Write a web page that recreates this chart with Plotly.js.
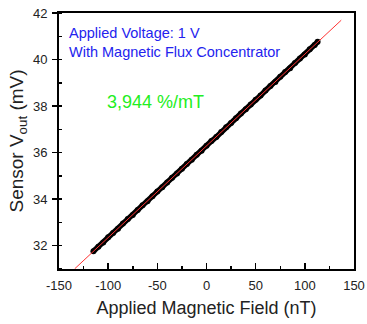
<!DOCTYPE html>
<html>
<head>
<meta charset="utf-8">
<script src="https://cdn.plot.ly/plotly-3.0.1.min.js"></script>
<style>html,body{margin:0;padding:0;background:#fff;}#chart{width:367px;height:324px;}</style>
</head>
<body>
<div id="chart"></div>
<script>
const fieldNT = [-115,-110,-105,-100,-95,-90,-85,-80,-75,-70,-65,-60,-55,-50,-45,-40,-35,-30,-25,-20,-15,-10,-5,0,5,10,15,20,25,30,35,40,45,50,55,60,65,70,75,80,85,90,95,100,105,110,113];
const voutMV = [31.76,31.96,32.14,32.36,32.55,32.73,32.95,33.15,33.32,33.54,33.74,33.91,34.13,34.33,34.51,34.72,34.92,35.10,35.31,35.51,35.69,35.91,36.08,36.30,36.50,36.67,36.89,37.09,37.27,37.48,37.68,37.86,38.07,38.27,38.45,38.67,38.86,39.04,39.26,39.46,39.63,39.85,40.05,40.22,40.44,40.63,40.76];
// Linear fit line (end points)
const fitX = [-134, 137];
const fitY = [31.01, 41.69];
// Tick labels
const xTicks = [-150,-100,-50,0,50,100,150];
const yTicks = [32,34,36,38,40,42];

const font = "Arial, 'Liberation Sans', sans-serif";

const traces = [
  {x: fieldNT, y: voutMV, type: 'scatter', mode: 'lines+markers',
   line: {color: '#000', width: 5.5}, marker: {color: '#000', size: 6, symbol: 'circle'},
   hoverinfo: 'skip', showlegend: false},
  {x: fitX, y: fitY, type: 'scatter', mode: 'lines',
   line: {color: '#ff3333', width: 1}, hoverinfo: 'skip', showlegend: false}
];

const layout = {
  width: 367, height: 324,
  margin: {l: 59, r: 13, t: 13, b: 55, pad: 0},
  paper_bgcolor: '#fff', plot_bgcolor: '#fff',
  font: {family: font, color: '#222', size: 13},
  showlegend: false,
  xaxis: {
    range: [-150, 150], tickvals: xTicks, ticktext: xTicks.map(String),
    ticks: 'inside', ticklen: 6, tickwidth: 1.5, tickcolor: '#000',
    minor: {dtick: 25, tick0: 0, ticks: 'inside', ticklen: 3, tickwidth: 1.5, tickcolor: '#000', showgrid: false},
    showline: true, linewidth: 2, linecolor: '#000', mirror: true,
    showgrid: false, zeroline: false, automargin: false,
    tickfont: {size: 13, family: font, color: '#222'}, ticklabelstandoff: 3,
    title: {text: 'Applied Magnetic Field (nT)', font: {size: 18, family: font, color: '#222'}, standoff: 10}
  },
  yaxis: {
    range: [31, 42], tickvals: yTicks, ticktext: yTicks.map(String),
    ticks: 'outside', ticklen: 5, tickwidth: 1.5, tickcolor: '#000',
    minor: {dtick: 1, tick0: 0, ticks: 'inside', ticklen: 3, tickwidth: 1.5, tickcolor: '#000', showgrid: false},
    showline: true, linewidth: 2, linecolor: '#000', mirror: true,
    showgrid: false, zeroline: false, automargin: false,
    tickfont: {size: 13, family: font, color: '#222'}, ticklabelstandoff: 2,
    title: {text: 'Sensor V<sub>out</sub> (mV)', font: {size: 19, family: font, color: '#222'}, standoff: 4}
  },
  annotations: [
    {xref: 'paper', yref: 'paper', x: 0.027, y: 0.923, xanchor: 'left', yanchor: 'middle',
     text: 'Applied Voltage: 1 V', showarrow: false, font: {size: 14.5, family: font, color: '#2323ee'}},
    {xref: 'paper', yref: 'paper', x: 0.027, y: 0.849, xanchor: 'left', yanchor: 'middle',
     text: 'With Magnetic Flux Concentrator', showarrow: false, font: {size: 14.5, family: font, color: '#2323ee'}},
    {xref: 'paper', yref: 'paper', x: 0.156, y: 0.654, xanchor: 'left', yanchor: 'middle',
     text: '3,944 %/mT', showarrow: false, font: {size: 18, family: font, color: '#22ee22'}}
  ]
};

Plotly.newPlot('chart', traces, layout, {staticPlot: true, displayModeBar: false});
</script>
</body>
</html>
